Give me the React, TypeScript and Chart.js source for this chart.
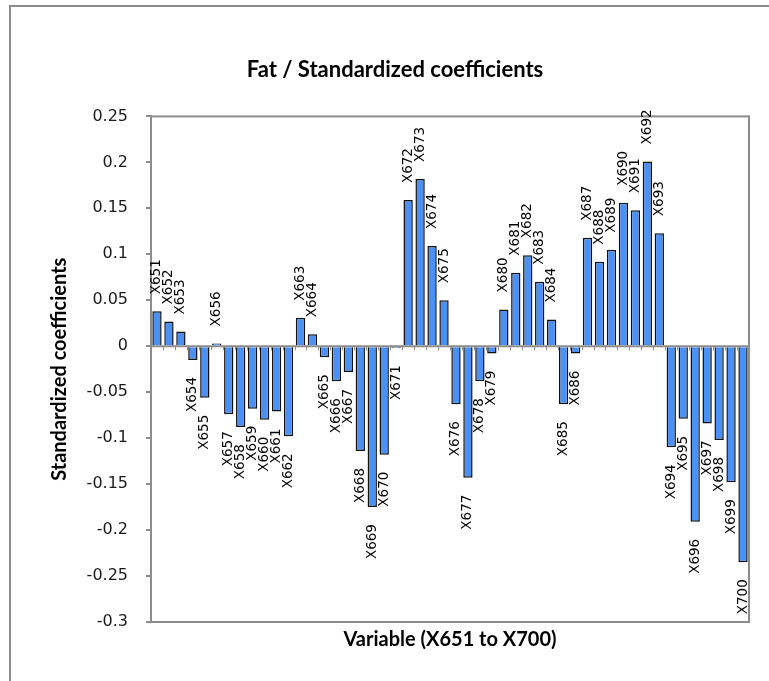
import React, { useEffect, useRef } from "react";
import { Chart, registerables } from "chart.js";

Chart.register(...registerables);

const categories = [
  "X651", "X652", "X653", "X654", "X655", "X656", "X657", "X658", "X659", "X660",
  "X661", "X662", "X663", "X664", "X665", "X666", "X667", "X668", "X669", "X670",
  "X671", "X672", "X673", "X674", "X675", "X676", "X677", "X678", "X679", "X680",
  "X681", "X682", "X683", "X684", "X685", "X686", "X687", "X688", "X689", "X690",
  "X691", "X692", "X693", "X694", "X695", "X696", "X697", "X698", "X699", "X700",
];

const coefficients = [
  0.038, 0.027, 0.016, -0.015, -0.056, 0.003, -0.074, -0.088, -0.068, -0.080,
  -0.071, -0.098, 0.031, 0.013, -0.012, -0.038, -0.028, -0.114, -0.175, -0.118,
  -0.002, 0.159, 0.182, 0.109, 0.050, -0.063, -0.143, -0.038, -0.008, 0.040,
  0.080, 0.099, 0.070, 0.029, -0.063, -0.008, 0.118, 0.092, 0.105, 0.156,
  0.148, 0.201, 0.123, -0.110, -0.079, -0.191, -0.084, -0.102, -0.148, -0.235,
];

const yTickValues = [0.25, 0.2, 0.15, 0.1, 0.05, 0, -0.05, -0.1, -0.15, -0.2, -0.25, -0.3];
const yTickLabels = ["0.25", "0.2", "0.15", "0.1", "0.05", "0", "-0.05", "-0.1", "-0.15", "-0.2", "-0.25", "-0.3"];

const chartTitle = "Fat / Standardized coefficients";
const yTitle = "Standardized coefficients";
const xTitle = "Variable (X651 to X700)";

const GRAY = "#8c8c8c";

const decorPlugin = {
  id: "decor",
  beforeDatasetsDraw(chart: any) {
    const { ctx, chartArea, scales } = chart;
    const y0 = scales.y.getPixelForValue(0);
    ctx.save();
    ctx.strokeStyle = GRAY;
    ctx.lineWidth = 2;
    ctx.strokeRect(chartArea.left, chartArea.top, chartArea.right - chartArea.left, chartArea.bottom - chartArea.top);
    ctx.beginPath();
    ctx.moveTo(chartArea.left, y0);
    ctx.lineTo(chartArea.right, y0);
    ctx.stroke();
    ctx.lineWidth = 1;
    ctx.beginPath();
    for (let i = 0; i <= categories.length; i++) {
      const x = Math.round(scales.x.getPixelForValue(i - 0.5)) + 0.5;
      ctx.moveTo(x, y0);
      ctx.lineTo(x, y0 + 4);
    }
    ctx.stroke();
    ctx.restore();
  },
  afterDatasetsDraw(chart: any) {
    const { ctx } = chart;
    const meta = chart.getDatasetMeta(0);
    ctx.save();
    ctx.font = "13.5px 'DejaVu Sans'";
    ctx.fillStyle = "#000";
    ctx.textBaseline = "middle";
    meta.data.forEach((bar: any, i: number) => {
      const v = coefficients[i];
      ctx.save();
      if (v >= 0) {
        ctx.translate(bar.x, bar.y - 17);
        ctx.rotate(-Math.PI / 2);
        ctx.textAlign = "left";
      } else {
        ctx.translate(bar.x, bar.y + 17);
        ctx.rotate(-Math.PI / 2);
        ctx.textAlign = "right";
      }
      ctx.fillText(categories[i], 0, 0);
      ctx.restore();
    });
    ctx.restore();
  },
};

export default function App() {
  const ref = useRef<HTMLCanvasElement | null>(null);
  useEffect(() => {
    if (!ref.current) return;
    const chart = new Chart(ref.current, {
      type: "bar",
      data: {
        labels: categories,
        datasets: [
          {
            data: coefficients,
            backgroundColor: "#4a90f5",
            borderColor: "#111111",
            borderWidth: 1.5,
            barPercentage: 0.78,
            categoryPercentage: 1,
          },
        ],
      },
      options: {
        responsive: false,
        animation: false,
        devicePixelRatio: 1,
        layout: { padding: { left: 41, right: 20, top: 0, bottom: 0 } },
        plugins: {
          legend: { display: false },
          tooltip: { enabled: false },
          title: {
            display: true,
            text: chartTitle,
            color: "#000",
            font: { family: "Lato", size: 22, weight: "bold" },
            padding: { top: 57, bottom: 33 },
          },
        },
        scales: {
          x: {
            type: "category",
            offset: true,
            grid: { display: false },
            border: { display: false },
            ticks: { display: false },
            title: {
              display: true,
              text: xTitle,
              color: "#000",
              font: { family: "Lato", size: 20, weight: "bold" },
              padding: { top: 0, bottom: 29 },
            },
            afterFit: (scale: any) => {
              scale.height = 59;
            },
          },
          y: {
            min: -0.3,
            max: 0.25,
            afterBuildTicks: (scale: any) => {
              scale.ticks = yTickValues.map((v) => ({ value: v }));
            },
            ticks: {
              color: "#1a1a1a",
              font: { family: "DejaVu Sans", size: 16 },
              padding: 18,
              callback: (_v: any, i: number) => yTickLabels[i],
            },
            grid: {
              drawOnChartArea: false,
              drawTicks: true,
              tickLength: 5,
              color: GRAY,
              lineWidth: 2,
            },
            border: { display: true, color: GRAY, width: 2 },
            title: {
              display: true,
              text: yTitle,
              color: "#000",
              font: { family: "Lato", size: 20, weight: "bold" },
              padding: { top: 7, bottom: 0 },
            },
            afterFit: (scale: any) => {
              scale.width = 110;
            },
          },
        },
      },
      plugins: [decorPlugin],
    });
    return () => chart.destroy();
  }, []);

  return (
    <div style={{ position: "absolute", left: 0, top: 0, width: 769, height: 681, overflow: "hidden", background: "#fff" }}>
      <div
        style={{
          position: "absolute",
          left: 9,
          top: 5,
          width: 900,
          height: 900,
          borderLeft: `2px solid ${GRAY}`,
          borderTop: `2px solid ${GRAY}`,
        }}
      />
      <canvas ref={ref} width={769} height={681} style={{ position: "absolute", left: 0, top: 0 }} />
    </div>
  );
}
